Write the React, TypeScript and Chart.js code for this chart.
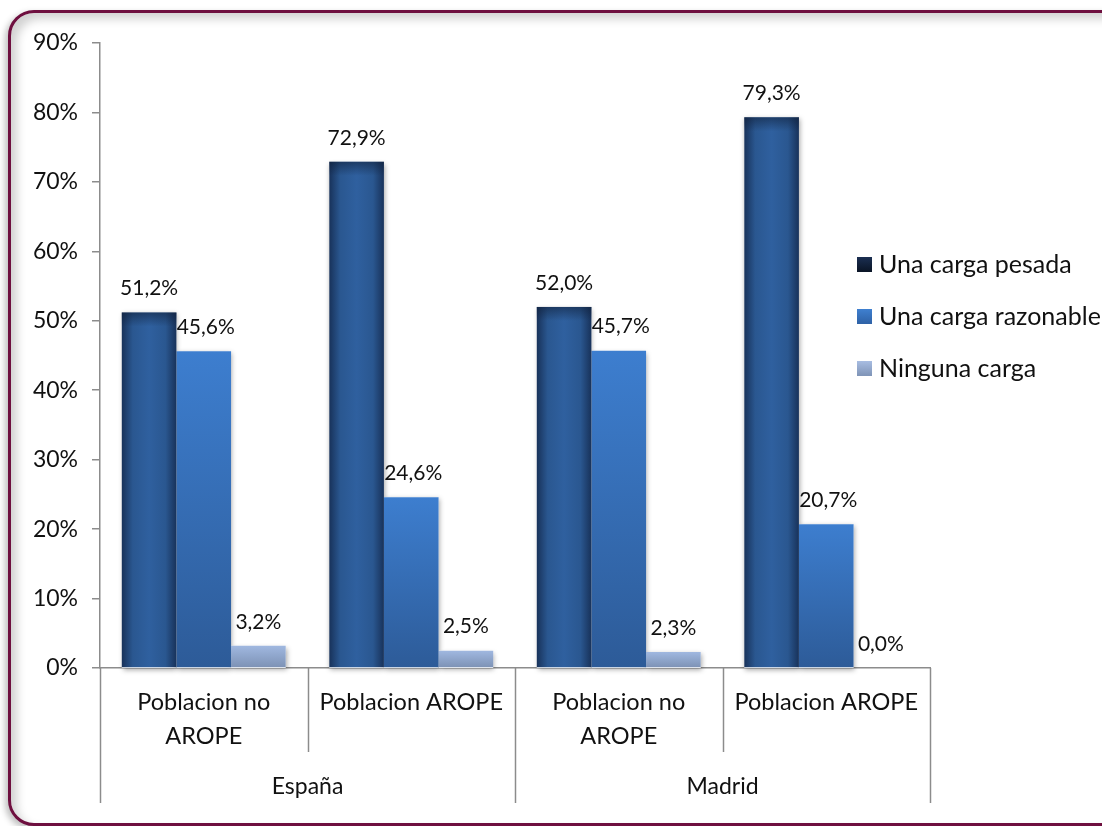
import React, { useEffect, useRef } from "react";
import { Chart, registerables } from "chart.js";

Chart.register(...registerables);

const subCategories: string[][] = [
  ["Poblacion no", "AROPE"],
  ["Poblacion AROPE"],
  ["Poblacion no", "AROPE"],
  ["Poblacion AROPE"],
];
const groups = ["España", "Madrid"];
const groupSpans = [2, 2];
const seriesNames = ["Una carga pesada", "Una carga razonable", "Ninguna carga"];
const pesada = [51.2, 72.9, 52.0, 79.3];
const razonable = [45.6, 24.6, 45.7, 20.7];
const ninguna = [3.2, 2.5, 2.3, 0.0];
const yTicks = [0, 10, 20, 30, 40, 50, 60, 70, 80, 90];

const FONT = "Lato, 'Liberation Sans', sans-serif";
const CAT_PCT = 0.79;
const legendSwatch = ["#0f1f38", "#3b78c8", "#a2b5d8"];

function barRect(chart: any, dsIndex: number, index: number, value: number) {
  const x = chart.scales.x;
  const y = chart.scales.y;
  const catW = (x.right - x.left) / subCategories.length;
  const bw = (catW * CAT_PCT) / 3;
  const cx = x.getPixelForValue(index) + (dsIndex - 1) * bw;
  return {
    l: cx - bw / 2,
    r: cx + bw / 2,
    t: y.getPixelForValue(value),
    b: y.getPixelForValue(0),
  };
}

function fill(ds: number) {
  return (ctx: any) => {
    const chart = ctx.chart;
    if (!chart.chartArea || ctx.type !== "data") return legendSwatch[ds];
    const c = chart.ctx as CanvasRenderingContext2D;
    const v = ctx.raw as number;
    const r = barRect(chart, ds, ctx.dataIndex, v);
    if (ds === 0) {
      const g = c.createLinearGradient(r.l, 0, r.r, 0);
      g.addColorStop(0, "#18325a");
      g.addColorStop(0.2, "#2a5790");
      g.addColorStop(0.5, "#2f609f");
      g.addColorStop(0.8, "#2a5790");
      g.addColorStop(1, "#18325a");
      return g;
    }
    if (ds === 1) {
      const g = c.createLinearGradient(0, r.t, 0, r.b);
      g.addColorStop(0, "#3d7ecf");
      g.addColorStop(1, "#2d5b98");
      return g;
    }
    const g = c.createLinearGradient(0, r.t, 0, r.b);
    g.addColorStop(0, "#a0b8e0");
    g.addColorStop(1, "#7c91b4");
    return g;
  };
}

const decorPlugin = {
  id: "decor",
  beforeDatasetsDraw(chart: any) {
    const c = chart.ctx as CanvasRenderingContext2D;
    chart.data.datasets.forEach((d: any, ds: number) => {
      d.data.forEach((v: number, i: number) => {
        if (v <= 0) return;
        const r = barRect(chart, ds, i, v);
        c.save();
        c.shadowColor = "rgba(0,0,0,0.35)";
        c.shadowBlur = 5;
        c.shadowOffsetX = 1;
        c.shadowOffsetY = 2;
        c.fillStyle = "#ffffff";
        c.fillRect(r.l, r.t, r.r - r.l, r.b - r.t);
        c.restore();
      });
    });
  },
  afterDatasetsDraw(chart: any) {
    const c = chart.ctx as CanvasRenderingContext2D;
    pesada.forEach((v, i) => {
      const r = barRect(chart, 0, i, v);
      const g = c.createLinearGradient(0, r.t, 0, r.t + 14);
      g.addColorStop(0, "rgba(15,30,55,0.55)");
      g.addColorStop(1, "rgba(15,30,55,0)");
      c.fillStyle = g;
      c.fillRect(r.l, r.t, r.r - r.l, 14);
    });
    c.save();
    c.font = `21px ${FONT}`;
    c.fillStyle = "#111";
    c.textAlign = "center";
    c.textBaseline = "middle";
    chart.data.datasets.forEach((d: any, ds: number) => {
      d.data.forEach((v: number, i: number) => {
        const r = barRect(chart, ds, i, v);
        const txt = v.toFixed(1).replace(".", ",") + "%";
        c.fillText(txt, (r.l + r.r) / 2 + (ds === 1 ? 2 : 0), r.t - 24);
      });
    });
    c.restore();
  },
  afterDraw(chart: any) {
    const c = chart.ctx as CanvasRenderingContext2D;
    const x = chart.scales.x;
    const base = chart.chartArea.bottom;
    const catW = (x.right - x.left) / subCategories.length;
    c.save();
    c.strokeStyle = "#8c8c8c";
    c.lineWidth = 1.5;
    const groupBounds = new Set<number>([0]);
    let acc = 0;
    groupSpans.forEach((s) => {
      acc += s;
      groupBounds.add(acc);
    });
    for (let k = 0; k <= subCategories.length; k++) {
      const px = Math.round(x.left + k * catW) + 0.5;
      const h = groupBounds.has(k) ? 135 : 84;
      c.beginPath();
      c.moveTo(px, base);
      c.lineTo(px, base + h);
      c.stroke();
    }
    c.font = `23px ${FONT}`;
    c.fillStyle = "#111";
    c.textAlign = "center";
    c.textBaseline = "middle";
    let start = 0;
    groups.forEach((g, gi) => {
      const end = start + groupSpans[gi];
      const cx = x.left + ((start + end) / 2) * catW;
      c.fillText(g, cx, base + 119);
      start = end;
    });
    c.font = `25px ${FONT}`;
    c.textAlign = "left";
    c.textBaseline = "middle";
    seriesNames.forEach((n, i) => {
      const ly = 264 + i * 52;
      const g = c.createLinearGradient(0, ly - 7, 0, ly + 7);
      if (i === 0) {
        g.addColorStop(0, "#1b2f52");
        g.addColorStop(1, "#0b1628");
      } else if (i === 1) {
        g.addColorStop(0, "#3f80d0");
        g.addColorStop(1, "#2f63a8");
      } else {
        g.addColorStop(0, "#a8bde2");
        g.addColorStop(1, "#8196b9");
      }
      c.fillStyle = g;
      c.fillRect(857, ly - 7, 15, 15);
      c.fillStyle = "#111";
      c.fillText(n, 879, ly + 1);
    });
    c.restore();
  },
};

export default function App() {
  const ref = useRef<HTMLCanvasElement>(null);
  useEffect(() => {
    if (!ref.current) return;
    const chart = new Chart(ref.current, {
      type: "bar",
      data: {
        labels: subCategories,
        datasets: [
          { label: seriesNames[0], data: pesada, backgroundColor: fill(0) },
          { label: seriesNames[1], data: razonable, backgroundColor: fill(1) },
          { label: seriesNames[2], data: ninguna, backgroundColor: fill(2) },
        ],
      },
      options: {
        animation: false,
        responsive: false,
        events: [],
        layout: { padding: { left: 0, right: 172, top: 43, bottom: 0 } },
        datasets: { bar: { categoryPercentage: CAT_PCT, barPercentage: 1 } } as any,
        plugins: { legend: { display: false }, tooltip: { enabled: false } },
        scales: {
          x: {
            grid: { display: false, drawTicks: false },
            border: { display: true, color: "#8c8c8c", width: 1.5 },
            ticks: {
              font: { family: FONT, size: 23.5, lineHeight: 1.42 },
              color: "#111",
              padding: 18,
              maxRotation: 0,
              autoSkip: false,
            },
            afterFit: (s: any) => {
              s.height = 826 - 668;
            },
          },
          y: {
            min: 0,
            max: 90,
            afterBuildTicks: (s: any) => {
              s.ticks = yTicks.map((v) => ({ value: v }));
            },
            grid: { drawOnChartArea: false, tickLength: 8, color: "#8c8c8c", lineWidth: 1.5 },
            border: { display: true, color: "#8c8c8c", width: 1.5 },
            ticks: {
              font: { family: FONT, size: 23 },
              color: "#111",
              padding: 14,
              callback: (v: any) => `${v}%`,
            },
            afterFit: (s: any) => {
              s.width = 100;
            },
          },
        },
      },
      plugins: [decorPlugin],
    });
    return () => chart.destroy();
  }, []);
  return (
    <div style={{ position: "fixed", left: 0, top: 0, width: 1102, height: 826, background: "#fff", overflow: "hidden" }}>
      <div
        style={{
          position: "absolute",
          left: 8,
          top: 10,
          width: 1200,
          height: 810,
          border: "3px solid #6e0f3f",
          borderRadius: 26,
          boxShadow: "inset 6px 6px 10px rgba(0,0,0,0.18), -3px 3px 6px rgba(0,0,0,0.25)",
          background: "#fff",
        }}
      />
      <canvas ref={ref} width={1102} height={826} style={{ position: "absolute", left: 0, top: 0 }} />
    </div>
  );
}
